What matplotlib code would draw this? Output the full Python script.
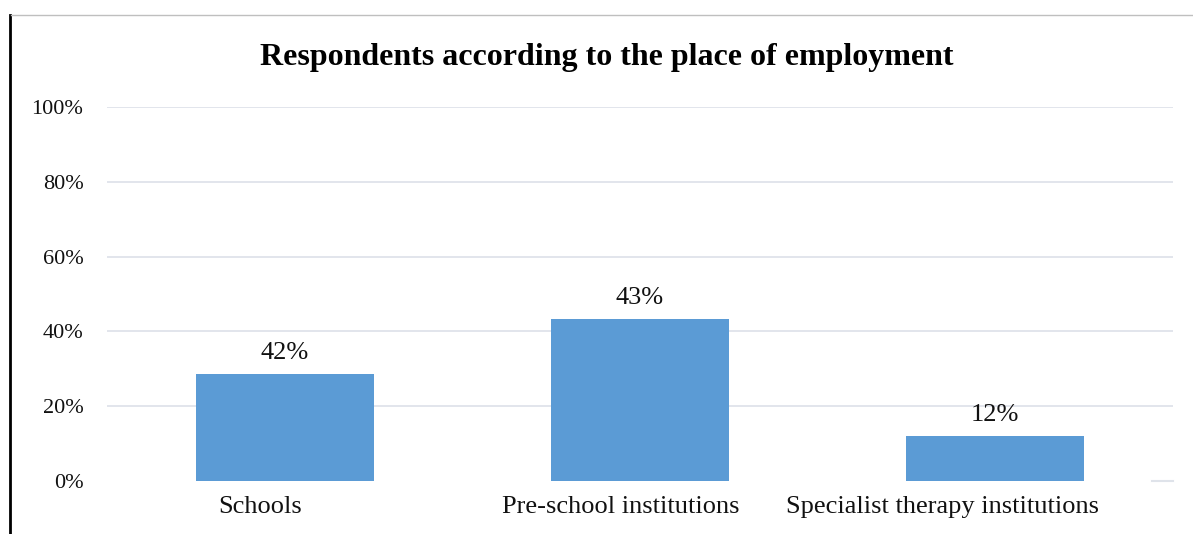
import numpy as np
import matplotlib.pyplot as plt
from matplotlib.lines import Line2D
from matplotlib.transforms import ScaledTranslation

plt.rcParams['font.family'] = ['Liberation Serif', 'DejaVu Serif']

categories = ['Schools', 'Pre-school institutions', 'Specialist therapy institutions']
bar_heights = [28.6, 43.3, 12.0]          # heights as drawn in the picture
value_labels = ['42%', '43%', '12%']      # labels as printed
yticks = [0, 20, 40, 60, 80, 100]
label_shift_px = [-25, -19, -53]          # category labels sit left of bar centres

fig = plt.figure(figsize=(11.93, 5.34), dpi=100)
ax = fig.add_axes([107/1193, 1 - 481/534, (1173 - 107)/1193, (481 - 107)/534])

x = np.arange(len(categories))
bars = ax.bar(x, bar_heights, width=0.5, color='#5b9bd5', zorder=3)
for b, lab in zip(bars, value_labels):
    ax.annotate(lab, (b.get_x() + b.get_width() / 2, b.get_height()),
                xytext=(0, 7), textcoords='offset points',
                ha='center', va='bottom', fontsize=19, color='#111111')

ax.set_xlim(-0.5, 2.5)
ax.set_ylim(0, 100)
ax.set_yticks(yticks)
ax.set_yticklabels([f'{t}%' for t in yticks])
ax.set_xticks(x)
ax.set_xticklabels(categories)
ax.tick_params(axis='both', length=0, colors='#111111')
ax.tick_params(axis='y', pad=17, labelsize=16)
ax.tick_params(axis='x', pad=10.5, labelsize=19)
for lab, dx in zip(ax.get_xticklabels(), label_shift_px):
    lab.set_transform(lab.get_transform() + ScaledTranslation(dx / 100, 0, fig.dpi_scale_trans))
for t in yticks[1:]:
    ax.axhline(t, color='#dfe3ea', linewidth=1.3, zorder=1)
ax.plot([2.44, 2.5], [0, 0], color='#dfe3ea', linewidth=1.5, clip_on=False)
for s in ax.spines.values():
    s.set_visible(False)

fig.text(607/1193, 1 - 57/534, 'Respondents according to the place of employment',
         fontsize=23, fontweight='bold', ha='center', va='center')

# chart frame edges
fig.add_artist(Line2D([10/1193, 10/1193], [0, 1 - 15/534], color='black', linewidth=2))
fig.add_artist(Line2D([11/1193, 1], [1 - 15/534, 1 - 15/534], color='#bfbfbf', linewidth=1))

fig.savefig('out.png', dpi=100)
